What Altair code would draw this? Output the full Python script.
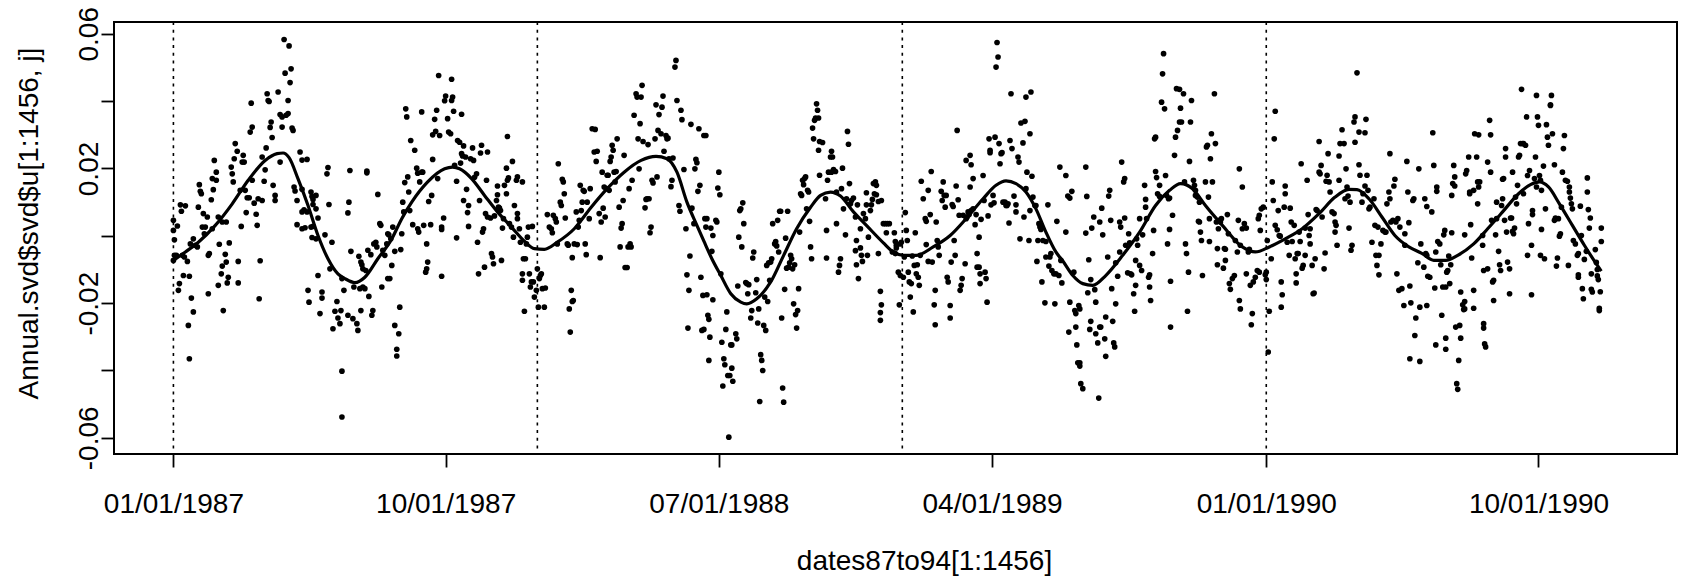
import altair as alt
import pandas as pd

# ---- scatter data: (day offset from 1987-01-01, value in thousandths) ----
pts_a = [(0,4.6),(0,1.6),(1,-1.2),(4,2.9),(1,-5.8),(3,-5.8),(0,-7.3),(7,9.2),(12,8.9),(8,7.3),(6,-14.2),(5,-16.2),(10,-11.8),(16,-12.0),(14,-7.6),(11,-6.3),(9,-5.8),(18,-18.5),(20,-22.6),(15,-26.6),(16,-36.5),(17,-2.4),(20,-0.9),(22,-2.8),(24,-3.3),(25,8.5),(27,13.2),(28,12.5),(26,15.2),(30,6.6),(34,5.6),(29,2.6),(32,2.6),(31,0.6),(35,-5.8),(36,-5.3),(35,-17.2),(39,2.1),(38,10.7),(40,13.7),(39,17.0),(43,16.5),(43,18.9),(41,22.4),(45,5.6),(46,-2.5),(49,4.1),(48,-11.3),(45,-14.7),(50,-22.2),(52,-5.5),(53,-7.8),(49,-9.0),(55,-12.3),(54,-14.0),(56,-2.1),(53,4.1),(58,20.4),(59,18.4),(60,16.0),(62,27.4),(61,22.9),(64,25.1),(65,-7.6),(65,-14.0),(68,2.8),(67,13.5),(70,23.9),(72,13.5),(71,21.9),(69,21.9),(74,11.3),(76,11.3),(73,6.9),(77,30.8),(79,32.3),(78,39.4),(79,16.5),(81,9.7),(83,6.4),(85,11.0),(84,3.1),(87,-7.4),(86,-18.7),(89,10.5),(89,23.4),(91,16.2),(92,19.6),(93,26.1),(94,42.2),(96,39.9),(97,32.2),(98,33.8),(99,29.2),(95,40.2),(100,15.0),(102,12.0),(102,10.5),(105,42.7),(107,36.0),(109,35.3),(109,32.3),(107,21.9),(113,35.8),(115,36.3),(111,58.3),(116,56.4),(118,49.6),(112,48.3),(117,45.5),(115,40.2),(119,32.0),(120,31.3),(121,14.5),(122,13.3),(124,10.5),(124,3.3),(127,24.9),(129,22.5),(134,22.7),(129,13.8),(131,7.7),(129,7.1),(129,2.1),(132,2.4),(134,7.1),(138,13.0),(139,11.7),(140,9.3),(138,2.6),(143,12.0),(140,10.8),(143,8.0),(145,5.3),(145,-11.8),(135,-16.2),(136,-19.7),(140,2.8),(143,-0.9),(139,-0.5),(149,-16.7),(149,-18.5),(147,-23.1),(152,0.3),(155,20.3),(154,18.4),(156,9.3),(157,-9.8),(159,-1.9),(160,-27.6),(162,-22.4),(164,-19.5),(165,-24.4),(167,-26.1),(168,-22.2),(169,-12.7),(171,-16.2),(169,-40.2),(169,-53.8)]

pts_b = [(175,-23.6),(177,19.4),(176,10.0),(175,6.8),(178,-4.6),(180,-24.6),(181,-15.2),(184,-26.1),(185,-28.1),(188,-22.2),(187,-15.7),(192,-15.7),(190,-15.2),(186,-6.1),(188,-7.8),(189,-8.6),(190,-9.8),(193,-10.3),(196,-18.0),(199,-23.6),(200,-22.2),(194,19.2),(194,18.7),(195,-4.3),(198,-5.6),(201,-2.4),(203,-1.9),(204,-3.3),(205,12.3),(207,3.6),(208,3.1),(209,-15.2),(210,-4.3),(212,-5.8),(214,-2.4),(215,0.6),(215,-12.7),(217,-12.7),(216,0.3),(218,-0.9),(219,-8.8),(220,2.6),(222,-4.6),(222,-26.6),(224,-33.7),(224,-35.7),(226,-29.1),(227,-21.2),(228,-4.1),(229,0.6),(230,10.0),(231,7.1),(233,37.7),(234,35.3),(232,15.8),(235,17.5),(236,13.0),(237,7.5),(238,28.3),(240,3.3),(242,25.4),(244,20.1),(245,18.6),(245,2.1),(246,1.1),(247,16.0),(249,18.9),(250,18.9),(249,36.8),(251,3.1),(254,-2.4),(253,-10.8),(254,-9.8),(255,-7.8),(256,10.2),(258,3.3),(259,12.0),(260,22.7),(260,30.0),(262,34.6),(264,37.3),(263,31.0),(265,17.0),(266,47.6),(267,29.8),(269,2.6),(269,1.9),(269,-12.0),(271,5.3),(272,40.1),(273,41.5),(275,34.8),(276,30.8),(278,30.3),(279,46.5),(280,41.2),(279,40.2),(281,37.0),(282,20.9),(284,-0.6),(284,16.2),(285,28.3),(287,27.8),(288,21.6),(289,24.4),(289,36.1),(290,23.7),(291,26.7),(291,10.5),(293,23.4),(294,13.8),(295,6.9),(296,9.0),(296,2.8),(298,22.9),(300,26.1),(301,22.4),(302,17.4),(304,18.4),(305,-1.9),(306,-11.3),(307,10.5),(308,24.6),(309,26.9),(310,1.1),(311,2.1),(312,-9.3),(313,6.6),(314,16.5),(315,24.9),(315,5.6),(318,5.3),(319,-5.3),(320,-6.3),(321,-8.3),(322,5.9),(324,10.5),(325,12.2),(325,14.8),(326,8.5),(327,8.2),(328,7.5),(329,-7.3),(330,2.3),(331,5.1),(332,15.0),(334,12.5),(334,20.1),(335,29.5),(335,16.5),(336,17.2),(337,3.6),(339,2.6),(340,22.1),(341,-0.4),(342,9.0),(344,16.5),(345,17.5),(345,6.6),(345,5.1),(347,2.1),(348,-1.9),(350,16.0),(351,-6.8),(350,-11.3),(350,-13.2),(352,-22.4)]

pts_c = [(354,-2.4),(355,-0.4),(356,2.6),(360,2.8),(353,-6.8),(357,-11.3),(359,-13.7),(358,-15.2),(361,-13.7),(365,-9.8),(367,-12.7),(368,-11.8),(369,-11.3),(370,-15.7),(373,-15.5),(364,-16.2),(362,-18.2),(366,-21.2),(372,-21.2),(375,6.3),(377,2.6),(379,2.1),(380,0.9),(381,6.1),(383,5.1),(384,4.1),(385,-2.4),(386,21.4),(388,10.0),(389,9.0),(390,16.8),(391,16.0),(392,12.5),(393,5.3),(395,-2.4),(396,-2.8),(399,-16.2),(400,-19.5),(401,-19.2),(397,-21.7),(398,-28.6),(400,-6.5),(402,-2.4),(405,-2.6),(406,2.6),(404,7.1),(407,4.6),(408,15.0),(409,7.5),(410,10.0),(411,13.5),(412,13.2),(413,-2.4),(414,-5.6),(415,10.0),(417,5.1),(418,14.0),(420,31.8),(423,31.6),(422,24.9),(425,25.1),(424,22.1),(427,6.6),(428,-6.5),(429,4.1),(430,18.9),(431,8.2),(433,5.6),(432,14.5),(434,14.0),(435,18.0),(436,18.0),(437,13.5),(438,22.1),(439,23.4),(440,26.9),(441,25.4),(442,18.9),(444,19.1),(443,16.0),(445,28.8),(447,8.5),(448,-3.3),(449,2.3),(450,3.6),(451,10.5),(452,23.9),(453,-9.4),(455,-9.4),(456,-3.3),(457,14.0),(458,-2.4),(459,-3.3),(460,16.5),(462,35.8),(464,42.2),(465,41.2),(466,28.8),(467,19.9),(468,33.3),(469,41.2),(470,44.7),(471,28.0),(473,8.3),(474,10.8),(475,11.0),(476,27.1),(477,11.0),(478,0.9),(479,2.6),(480,16.5),(481,15.7),(483,28.8),(484,38.9),(485,17.5),(486,31.3),(487,36.0),(489,30.3),(490,38.2),(491,41.5),(492,25.1),(494,29.8),(495,28.8),(496,29.0),(497,22.9),(499,14.6),(500,16.5),(501,23.1),(503,50.1),(504,52.1),(505,40.2),(507,9.0),(508,7.3),(509,37.3),(510,34.5),(512,19.7),(514,2.1),(515,-11.6),(516,-27.4),(517,-16.2),(518,-6.0),(519,33.1),(520,8.2),(522,3.6),(523,19.9),(524,22.7),(525,21.7),(526,13.2),(527,31.8),(528,15.0),(529,-12.3),(531,-17.7),(530,-28.1),(532,29.8)]

pts_d = [(534,29.8),(533,5.1),(535,5.1),(534,2.6),(539,2.3),(540,-4.6),(541,0.1),(544,4.6),(545,4.1),(547,18.9),(546,14.2),(548,12.2),(549,-11.3),(550,-31.6),(541,-19.0),(535,-17.5),(536,-23.6),(537,-24.8),(532,-27.8),(538,-30.1),(537,-37.0),(552,-36.5),(553,-38.3),(555,-22.6),(554,-27.8),(556,-41.5),(558,-41.5),(551,-44.6),(559,-32.4),(560,-32.4),(560,-39.3),(561,-43.2),(564,-29.1),(565,-30.6),(557,-59.8),(566,-14.9),(568,7.5),(569,8.0),(571,9.8),(572,3.6),(567,-0.4),(570,-3.3),(574,-13.9),(575,-14.2),(576,-17.2),(577,-14.5),(580,-22.2),(579,-24.4),(582,-4.8),(581,-6.6),(584,-16.9),(585,-13.0),(587,-21.7),(586,-25.9),(588,-49.2),(589,-35.3),(590,-37.0),(591,-40.0),(592,-26.6),(593,-18.2),(594,-28.1),(595,-8.8),(596,-19.5),(597,-8.0),(598,-13.2),(599,-7.8),(600,-6.8),(601,3.6),(603,-2.4),(604,-1.7),(605,-3.0),(606,4.6),(607,-4.8),(608,7.3),(609,7.3),(610,-24.4),(611,-45.2),(612,-49.4),(613,-15.9),(614,-0.7),(615,-9.6),(616,7.3),(617,-9.3),(618,-8.0),(619,-5.8),(620,-6.8),(621,-9.8),(622,-20.2),(623,-8.6),(624,-23.4),(625,-27.4),(626,-22.2),(627,-15.7),(628,1.1),(629,12.5),(630,12.0),(632,15.2),(631,16.5),(633,17.0),(634,17.5),(635,8.0),(636,13.5),(637,13.0),(638,4.3),(639,-3.3),(640,-6.8),(641,32.0),(642,28.8),(643,34.3),(644,35.0),(645,39.2),(646,37.3),(647,35.0),(648,28.0),(647,25.4),(648,18.0),(651,27.7),(654,11.0),(655,1.6),(655,-6.6),(656,16.5),(657,18.9),(659,23.4),(660,25.1),(661,23.4),(660,18.9),(662,19.7),(664,19.1),(665,3.6),(665,13.0),(667,-10.8),(668,-8.8),(669,-6.8),(670,14.0),(671,20.1),(672,8.0),(674,0.3),(675,11.0),(676,31.0),(677,27.2),(678,15.5),(679,9.5),(680,10.5),(682,11.2),(684,5.6),(684,-4.4),(685,-8.6),(685,-1.4),(687,-12.7),(686,9.2),(689,2.1),(689,-3.6),(690,-5.8),(691,-7.6),(692,6.6),(694,5.1),(695,12.8),(695,9.2),(696,-5.8),(697,-0.4),(699,7.5),(700,9.2),(701,10.8),(702,15.5),(703,12.5),(704,16.0),(705,15.0),(705,12.2),(707,10.2),(709,-16.5),(710,-20.5),(709,-22.8),(709,-25.1),(712,3.6),(707,-5.3),(710,10.5)]

pts_e = [(714,3.6),(716,3.6),(718,3.6),(715,0.9),(723,0.9),(724,-1.7),(725,-2.8),(725,-3.6),(721,-4.8),(724,-5.3),(729,-2.4),(730,-1.9),(734,6.9),(735,1.6),(736,-1.4),(733,-6.3),(729,-11.8),(732,-12.3),(727,-10.8),(737,-10.8),(738,-13.7),(741,-6.0),(743,-8.8),(744,0.9),(745,-11.3),(746,-8.6),(747,-12.3),(748,-14.7),(749,-5.8),(740,-14.2),(739,-18.2),(728,-20.5),(742,-22.6),(750,16.2),(752,11.0),(754,5.1),(755,4.3),(755,-2.6),(757,13.5),(759,6.3),(760,19.1),(757,-7.6),(761,-7.8),(764,-16.2),(763,-20.5),(764,-26.4),(765,4.1),(766,-1.4),(767,-3.3),(768,-5.8),(770,13.2),(771,10.5),(772,16.0),(773,12.0),(774,8.5),(775,12.0),(777,-13.7),(776,-12.3),(779,-20.7),(779,-24.4),(780,-7.8),(781,9.3),(782,8.7),(783,-1.4),(784,-5.8),(785,14.8),(786,31.3),(787,10.7),(788,6.1),(789,-16.2),(790,-14.7),(791,-12.7),(792,6.1),(794,-8.3),(795,5.1),(795,22.4),(796,5.6),(797,7.1),(798,6.3),(799,14.5),(800,21.1),(799,23.9),(800,7.5),(802,17.0),(802,8.0),(804,3.3),(805,6.3),(806,-5.3),(806,-9.3),(808,-9.3),(808,-0.4),(809,-14.2),(809,-11.3),(810,4.9),(812,17.9),(813,10.5),(814,-10.8),(815,-12.7),(816,-19.7),(817,5.9),(818,28.8),(819,25.4),(819,24.7),(820,9.2),(822,12.0),(823,9.8),(824,29.3),(825,50.1),(826,57.4),(827,53.1),(828,27.4),(829,21.4),(830,24.4),(831,24.7),(832,10.0),(834,10.0),(835,9.0),(836,9.0),(837,9.5),(838,3.8),(839,28.3),(840,42.2),(841,25.9),(843,11.8),(845,9.2),(845,7.1),(847,23.4),(848,21.9),(849,-0.9),(850,33.5),(852,27.6),(853,5.6),(854,34.0),(855,14.0),(855,41.2),(856,18.9),(858,-1.4),(859,7.5),(859,30.3),(860,42.7),(861,17.7),(862,11.5),(864,9.0),(865,9.0),(866,-7.6),(867,-1.4),(868,3.6),(869,2.6),(870,1.9),(871,-13.7),(872,-1.4),(874,-19.9),(875,-6.3),(875,-1.7),(877,9.2),(878,-9.0),(879,-6.3),(880,-5.3),(881,-10.3),(883,-11.3),(884,-20.2),(885,-11.3),(886,4.3),(889,20.4),(888,-11.8),(890,-7.3),(891,-14.0)]

pts_f = [(895,17.9),(895,1.1),(897,11.8),(899,11.2),(901,13.2),(903,-10.8),(899,-19.7),(904,-22.2),(908,-20.7),(909,-21.7),(905,-23.1),(905,-27.1),(898,-28.6),(906,-32.4),(907,-37.7),(909,-37.7),(909,-38.7),(910,-43.9),(912,-45.4),(915,20.4),(916,11.7),(915,0.8),(918,-7.1),(920,-13.0),(917,-16.9),(924,-16.0),(923,5.6),(921,2.3),(925,-19.7),(920,-25.4),(919,-27.8),(925,-29.1),(927,-31.8),(929,-27.1),(930,-27.1),(928,-48.2),(929,4.1),(931,8.2),(932,0.3),(934,-30.6),(935,-24.1),(935,-35.8),(937,-6.3),(939,13.5),(938,11.8),(940,4.6),(941,-15.7),(942,-25.4),(943,-31.8),(944,-33.0),(945,-20.2),(945,-8.0),(947,-12.0),(949,4.1),(950,2.6),(949,-4.8),(951,21.9),(953,16.0),(954,17.0),(954,5.3),(955,-2.8),(957,-11.0),(958,0.6),(959,-2.1),(960,-11.3),(961,-11.6),(963,-17.2),(964,-22.4),(965,-14.7),(965,-7.3),(966,-0.9),(967,-2.8),(969,5.1),(969,-8.8),(971,-10.3),(972,0.3),(974,15.0),(975,10.8),(975,8.5),(976,5.1),(978,-12.3),(979,-11.6),(979,-15.2),(980,-19.2),(982,-5.3),(983,1.6),(984,28.8),(985,29.3),(985,19.1),(986,17.3),(987,12.5),(989,15.0),(989,11.7),(991,39.7),(993,54.1),(992,48.1),(994,37.7),(995,17.9),(996,12.0),(998,11.0),(999,1.9),(997,-2.4),(999,11.2),(1000,-13.5),(1000,-27.1),(1002,6.1),(1004,23.9),(1005,29.3),(1007,31.3),(1009,33.8),(1006,43.7),(1009,43.5),(1010,37.9),(1013,42.2),(1011,33.8),(1014,16.0),(1015,-2.4),(1016,-5.3),(1017,-22.4),(1018,-10.8),(1019,22.1),(1020,33.8),(1021,40.2),(1023,16.5),(1024,15.0),(1025,13.5),(1025,12.0),(1027,11.5),(1029,10.0),(1028,4.3),(1029,4.1),(1030,1.1),(1031,-1.4),(1032,-11.8),(1035,16.0),(1036,26.4),(1037,26.9),(1038,11.5),(1039,-1.7),(1039,5.1),(1040,22.9),(1041,30.3),(1042,16.0),(1044,42.2),(1045,27.4),(1046,4.1),(1047,-3.8),(1047,-8.6),(1048,2.1),(1049,4.6),(1050,4.1),(1051,5.1),(1053,-9.6),(1054,-3.8),(1055,-7.3),(1055,-4.0),(1057,6.3),(1058,0.6),(1059,-14.2),(1060,-15.9),(1062,-12.7),(1064,-11.8),(1065,-1.4),(1067,-4.8),(1068,4.6),(1069,19.9),(1069,-19.2),(1070,-21.7),(1070,-2.8),(1072,14.5),(1072,2.1)]

pts_g = [(1074,3.6),(1076,2.3),(1079,-4.0),(1078,-4.8),(1076,-11.3),(1080,-14.7),(1083,-13.7),(1082,-23.1),(1081,-26.4),(1085,-12.3),(1087,-10.3),(1089,-10.8),(1088,5.1),(1089,6.1),(1091,8.0),(1093,8.5),(1090,1.6),(1095,-11.6),(1096,-10.8),(1096,-13.0),(1097,-1.4),(1098,-34.5),(1099,-22.4),(1101,-6.8),(1102,16.0),(1103,10.5),(1104,28.8),(1105,37.0),(1105,3.1),(1107,1.8),(1108,7.5),(1109,0.1),(1110,-0.1),(1111,-13.7),(1112,-17.5),(1111,-21.2),(1114,8.5),(1115,12.5),(1115,14.8),(1117,-1.9),(1119,-5.8),(1120,8.2),(1121,4.1),(1122,-1.7),(1124,3.1),(1125,-6.8),(1126,-11.3),(1126,-14.0),(1127,-5.3),(1128,-5.3),(1129,1.1),(1130,-1.7),(1131,21.4),(1132,-9.6),(1133,-8.8),(1135,-5.8),(1135,2.3),(1137,16.5),(1138,6.3),(1139,0.1),(1140,-2.4),(1140,2.1),(1142,-8.8),(1143,-17.2),(1144,-17.0),(1145,-6.8),(1146,7.8),(1147,7.5),(1149,18.9),(1149,28.0),(1150,18.4),(1151,20.9),(1152,5.6),(1154,-9.8),(1155,-5.1),(1156,16.2),(1157,18.0),(1158,24.4),(1159,16.0),(1160,13.0),(1162,7.1),(1164,6.6),(1165,4.1),(1165,1.1),(1166,3.1),(1167,-2.8),(1169,16.5),(1169,23.7),(1170,27.4),(1172,31.5),(1174,27.4),(1175,11.0),(1176,19.9),(1177,14.5),(1178,11.8),(1179,2.3),(1180,10.0),(1181,-4.3),(1182,-2.8),(1184,33.8),(1185,35.3),(1185,27.8),(1187,48.4),(1189,30.8),(1189,21.1),(1190,18.0),(1192,10.0),(1193,12.5),(1195,14.8),(1195,30.6),(1196,34.6),(1197,18.0),(1198,13.5),(1199,8.0),(1200,8.5),(1202,-1.9),(1204,11.0),(1205,3.1),(1206,-5.8),(1207,-8.8),(1208,2.6),(1209,-5.8),(1209,-11.6),(1211,-2.4),(1213,1.6),(1215,1.1),(1216,1.1),(1217,9.5),(1219,13.0),(1220,11.0),(1220,24.4),(1221,4.1),(1223,4.6),(1224,14.8),(1225,16.8),(1226,4.1),(1227,-11.3),(1228,5.1),(1229,-16.2),(1230,2.6),(1232,-15.7),(1234,-20.7),(1235,0.6),(1235,-2.8),(1237,22.1),(1238,13.0),(1239,3.9),(1240,-14.9),(1240,-36.5),(1241,-19.9),(1243,10.5),(1244,11.0),(1245,-29.6),(1246,-24.4),(1248,-8.0),(1249,19.9),(1250,-21.2),(1250,-37.3),(1251,-2.4)]

pts_h = [(1254,-9.3),(1256,-5.3),(1257,-5.8),(1258,-12.0),(1260,-12.3),(1257,-20.7),(1255,11.0),(1257,8.7),(1262,7.1),(1263,30.6),(1264,20.9),(1265,-15.5),(1266,-32.4),(1266,-4.8),(1267,14.5),(1267,13.2),(1268,-1.7),(1270,-2.4),(1271,-8.6),(1272,-23.6),(1273,-15.2),(1274,0.3),(1275,1.6),(1276,-15.2),(1276,-30.4),(1276,-33.7),(1277,-10.8),(1278,-10.3),(1279,-6.0),(1280,-14.2),(1281,-8.6),(1282,0.9),(1282,12.0),(1283,15.5),(1284,20.9),(1285,14.8),(1285,17.5),(1286,-27.1),(1287,-43.9),(1288,-45.6),(1289,-37.0),(1290,-26.6),(1291,-30.4),(1291,-16.7),(1293,-20.5),(1294,-21.9),(1295,-21.7),(1295,-19.5),(1295,0.3),(1296,18.4),(1297,19.4),(1299,23.4),(1300,12.5),(1300,13.0),(1301,3.3),(1302,-6.6),(1304,-16.2),(1304,-21.5),(1304,13.5),(1305,30.3),(1307,23.4),(1308,16.0),(1309,30.0),(1309,14.5),(1310,16.0),(1308,9.5),(1313,0.1),(1313,-2.8),(1314,-26.1),(1314,-27.4),(1315,-32.1),(1316,-33.0),(1314,-10.3),(1318,-9.8),(1318,21.9),(1320,34.3),(1321,30.0),(1321,18.9),(1322,4.6),(1323,-13.7),(1324,-13.2),(1324,-19.2),(1326,0.3),(1327,10.0),(1327,5.1),(1329,-4.6),(1330,-8.6),(1331,-10.3),(1332,9.0),(1333,11.0),(1333,16.8),(1334,17.0),(1335,4.6),(1336,23.4),(1336,25.9),(1337,1.1),(1338,-7.8),(1340,-17.2),(1340,-9.8),(1341,5.3),(1342,5.3),(1343,18.9),(1343,1.3),(1344,0.6),(1345,2.3),(1346,11.5),(1347,9.5),(1348,15.0),(1349,23.4),(1350,23.9),(1351,27.4),(1352,43.5),(1353,27.4),(1354,12.5),(1354,27.4),(1356,26.9),(1357,35.3),(1358,17.9),(1358,-5.8),(1359,3.6),(1360,19.4),(1362,-2.8),(1362,-17.5),(1363,6.3),(1363,7.5),(1365,17.0),(1366,23.4),(1367,14.5),(1367,41.7),(1368,35.3),(1369,32.8),(1370,17.9),(1371,16.5),(1371,-5.8),(1372,1.9),(1372,13.5),(1374,20.7),(1375,-6.8),(1376,8.0),(1377,33.0),(1378,29.3),(1379,26.9),(1381,38.9),(1381,38.7),(1382,41.7),(1383,30.3),(1385,21.1),(1385,4.6),(1386,5.3),(1387,-9.0),(1388,-6.6),(1389,5.1),(1390,-0.1),(1391,0.6),(1392,8.5),(1393,18.9),(1394,25.9),(1395,29.8),(1396,16.5),(1398,16.2),(1399,-8.8),(1400,14.5),(1400,13.0),(1401,11.2),(1402,9.5),(1403,8.0),(1404,-1.4),(1406,-2.4),(1408,-5.8),(1409,-11.6),(1409,-12.3),(1409,-5.3),(1411,8.8),(1412,0.1),(1413,-15.7),(1414,-18.7),(1415,-7.0),(1417,-4.6),(1418,13.0),(1418,17.2),(1419,7.8),(1420,2.3),(1421,5.3),(1422,-15.9),(1422,-11.3),(1423,-16.7),(1426,-4.1),(1427,-7.9),(1428,-10.0),(1428,-11.9),(1429,-13.0),(1430,-21.5),(1430,-22.2),(1431,-16.6),(1432,2.3),(1432,-1.7)]

# ---- smooth curve: (day offset, value in thousandths) ----
smooth_day = [0, 12, 25, 42, 59, 75, 92, 104, 110, 116, 125, 135, 145, 155, 165, 172, 182, 192, 205, 219, 229, 239, 255, 272, 280, 287, 299, 312, 325, 339, 352, 362, 372, 385, 402, 419, 435, 452, 469, 484, 495, 505, 515, 525, 532, 540, 549, 559, 569, 575, 585, 599, 612, 625, 639, 649, 659, 669, 682, 695, 712, 722, 732, 745, 762, 779, 795, 812, 825, 835, 845, 855, 865, 875, 885, 892, 902, 912, 922, 935, 952, 969, 985, 999, 1010, 1022, 1035, 1052, 1072, 1085, 1099, 1115, 1132, 1149, 1165, 1179, 1187, 1199, 1212, 1225, 1239, 1252, 1264, 1276, 1288, 1304, 1318, 1333, 1349, 1361, 1370, 1379, 1390, 1403, 1415, 1424, 1432]
smooth_val = [-7.3, -4.8, -1.9, 3.1, 9.5, 16.5, 22.4, 24.4, 24.6, 23.2, 16.9, 9.0, 0.1, -6.8, -11.3, -12.7, -13.9, -12.3, -6.8, -0.9, 5.1, 10.0, 16.0, 19.9, 20.4, 19.9, 17.0, 12.0, 7.1, 2.6, -1.6, -3.8, -4.0, -1.9, 2.1, 8.5, 14.0, 18.9, 22.4, 23.6, 22.9, 18.9, 10.0, 3.1, -1.6, -6.8, -11.8, -17.2, -19.7, -20.2, -18.7, -13.7, -5.8, 2.1, 8.5, 12.0, 13.0, 11.8, 7.1, 3.1, -2.1, -4.8, -5.8, -5.8, -3.3, 0.1, 5.1, 11.0, 15.0, 16.3, 15.5, 13.0, 8.0, 1.1, -4.8, -7.5, -11.8, -14.2, -14.7, -11.8, -5.8, 1.1, 9.0, 13.5, 15.5, 14.0, 9.0, 3.1, -3.3, -4.8, -3.3, -0.9, 2.1, 6.6, 11.5, 13.8, 13.7, 11.0, 5.6, 0.1, -3.3, -5.2, -7.3, -7.3, -5.8, -2.4, 2.1, 7.1, 12.5, 15.2, 16.0, 14.5, 9.5, 3.1, -2.8, -7.0, -10.5]

year_lines = ["1987-01-01", "1988-01-01", "1989-01-01", "1990-01-01"]
x_tick_dates = ["1987-01-01", "1987-10-01", "1988-07-01", "1989-04-01", "1990-01-01", "1990-10-01"]
y_ticks = [-0.06, -0.04, -0.02, 0.0, 0.02, 0.04, 0.06]

origin = pd.Timestamp("1987-01-01")


def day_to_iso(d):
    return (origin + pd.Timedelta(days=d)).strftime("%Y-%m-%dT%H:%M:%S")


def dt(s, hours=0):
    y, m, d = (int(p) for p in s.split("-"))
    return alt.DateTime(year=y, month=m, date=d, hours=hours)


segments = [pts_a, pts_b, pts_c, pts_d, pts_e, pts_f, pts_g, pts_h]
points_df = pd.DataFrame(
    [(day_to_iso(d), v / 1000.0) for seg in segments for d, v in seg],
    columns=["date", "value"],
)
smooth_df = pd.DataFrame(
    {"date": [day_to_iso(d) for d in smooth_day], "value": [v / 1000.0 for v in smooth_val]}
)
lines_df = pd.DataFrame({"date": [s + "T00:00:00" for s in year_lines]})

FONT = "Liberation Sans"

x_scale = alt.Scale(domain=[dt("1986-11-02", 10), dt("1991-02-16", 22)], nice=False)
y_scale = alt.Scale(domain=[-0.0648, 0.0635], nice=False, zero=False)

x_axis = alt.Axis(
    values=[dt(s) for s in x_tick_dates],
    format="%m/%d/%Y",
    title="dates87to94[1:1456]",
    domain=False, grid=False,
    tickSize=13, tickWidth=1.8, tickColor="black",
    labelAlign="center", labelBaseline="alphabetic", labelPadding=45,
    labelFont=FONT, labelFontSize=28, labelColor="black",
    labelFlush=False, labelOverlap=False, labelBound=False,
    titleFont=FONT, titleFontSize=28, titleFontWeight="normal", titleColor="black",
    titleX=810, titleY=115, titleAlign="center", titleBaseline="alphabetic",
)
y_axis = alt.Axis(
    values=y_ticks,
    title="Annual.svd$svd$u[1:1456, j]",
    domain=False, grid=False,
    tickSize=13, tickWidth=1.8, tickColor="black",
    labelAngle=270, labelAlign="center", labelBaseline="alphabetic", labelPadding=4,
    labelFont=FONT, labelFontSize=28, labelColor="black",
    labelFlush=False, labelOverlap=False, labelBound=False,
    labelExpr="abs(round(datum.value*100)) % 4 == 2 ? (datum.value < 0 ? '-' : '') + format(abs(datum.value), '.2f') : ''",
    titleFont=FONT, titleFontSize=28, titleFontWeight="normal", titleColor="black",
    titleAngle=270, titleX=-77, titleY=201, titleAlign="center", titleBaseline="alphabetic",
)

X = alt.X("date:T", scale=x_scale, axis=x_axis)
Y = alt.Y("value:Q", scale=y_scale, axis=y_axis)

rules = alt.Chart(lines_df).mark_rule(
    color="black", strokeWidth=1.6, strokeDash=[3, 4.7]
).encode(x=X)

dots = alt.Chart(points_df).mark_circle(
    size=32, color="black", opacity=1
).encode(x=X, y=Y)

curve = alt.Chart(smooth_df).mark_line(
    color="black", strokeWidth=3.2, interpolate="monotone"
).encode(x=X, y=Y)

chart = (
    alt.layer(rules, dots, curve)
    .properties(
        width=1563,
        height=432,
        padding={"left": 114, "top": 22, "right": 19, "bottom": 129},
        autosize=alt.AutoSizeParams(type="none"),
    )
    .configure(background="white")
    .configure_view(stroke="black", strokeWidth=2)
)

chart.save("out.html", embed_options={"renderer": "svg", "actions": False})
